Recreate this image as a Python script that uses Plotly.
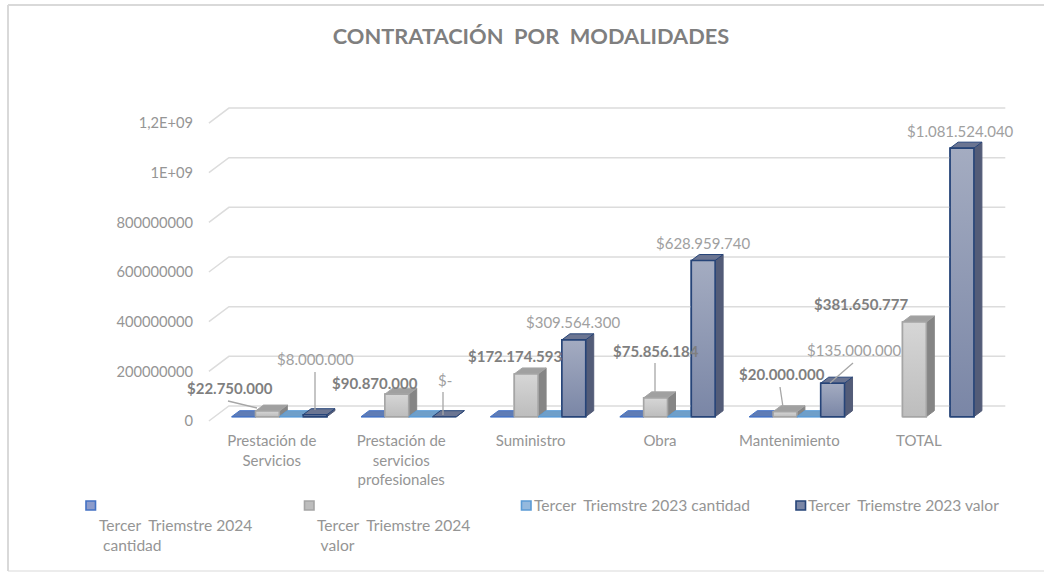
import plotly.graph_objects as go

TITLE = "CONTRATACIÓN  POR  MODALIDADES"
CATEGORIES = ["Prestación de<br>Servicios", "Prestación de<br>servicios<br>profesionales",
              "Suministro", "Obra", "Mantenimiento", "TOTAL"]
SERIES_2024_CANTIDAD = [3, 9, 14, 5, 6, None]
SERIES_2024_VALOR = [22750000, 90870000, 172174593, 75856184, 20000000, 381650777]
SERIES_2023_CANTIDAD = [2, 0, 4, 3, 2, None]
SERIES_2023_VALOR = [8000000, 0, 309564300, 628959740, 135000000, 1081524040]
Y_TICKS = [0, 200000000, 400000000, 600000000, 800000000, 1000000000, 1200000000]
Y_TICK_TEXT = ["0", "200000000", "400000000", "600000000", "800000000", "1E+09", "1,2E+09"]
LABELS_2024_VALOR = ["$22.750.000", "$90.870.000", "$172.174.593", "$75.856.184", "$20.000.000", "$381.650.777"]
LABELS_2023_VALOR = ["$8.000.000", "$-", "$309.564.300", "$628.959.740", "$135.000.000", "$1.081.524.040"]

# page geometry (px)
W, H = 1044, 572
L, R, T, B = 200, 1020, 90, 430
CAT0_PX, CAT_PX = 279.3, 129.4
ZERO_PX, PX_PER_V = 416.7, 0.2483e-6
BAR_UNITS = 0.184
FONT = "Lato, Carlito, Calibri, sans-serif"

def xv(px): return (px - CAT0_PX) / CAT_PX
def yv(py): return (ZERO_PX - py) / PX_PER_V
def xp(px): return (px - L) / (R - L)
def yp(py): return 1 - (py - T) / (B - T)
DX, DY = 8 / CAT_PX, 6 / PX_PER_V

STYLES = [
    dict(name="Tercer  Triemstre 2024 cantidad", line="#4472C4", front=("#a9b6da", "#8d9ccb"), top="#5f7cb5", side="#3d5f9e"),
    dict(name="Tercer  Triemstre 2024 valor", line="#A5A5A5", front=("#d6d6d6", "#bdbdbd"), top="#a0a0a0", side="#858585"),
    dict(name="Tercer  Triemstre 2023 cantidad", line="#5B9BD5", front=("#b4cfea", "#94b9de"), top="#6f9fc9", side="#4f86b8"),
    dict(name="Tercer  Triemstre 2023 valor", line="#264478", front=("#a4acc1", "#7a86a6"), top="#6b7592", side="#535c78"),
]
ALL_VALUES = [SERIES_2024_CANTIDAD, SERIES_2024_VALOR, SERIES_2023_CANTIDAD, SERIES_2023_VALOR]

fig = go.Figure()

# slanted wall gridlines
gx0, gx1, gx2 = -0.5 - 5.7 / CAT_PX, -0.5 + 14.3 / CAT_PX, 5.5 + 14.3 / CAT_PX
for v in Y_TICKS:
    fig.add_trace(go.Scatter(
        x=[gx0, gx1, gx2],
        y=[v - 4.3 / PX_PER_V, v + 10.7 / PX_PER_V, v + 10.7 / PX_PER_V],
        mode="lines", line=dict(color="#dcdcdc", width=1.5), hoverinfo="skip", showlegend=False))

# real bars
for vals, st in zip(ALL_VALUES, STYLES):
    fig.add_trace(go.Bar(x=list(range(6)), y=vals, name=st["name"], showlegend=False,
                         marker=dict(color=st["front"][1], line=dict(color=st["line"], width=1.5))))

# 3D faces derived from the values
def poly(xs, ys, **kw):
    fig.add_trace(go.Scatter(x=xs, y=ys, mode="lines", fill="toself", hoverinfo="skip", showlegend=False, **kw))

for s, (vals, st) in enumerate(zip(ALL_VALUES, STYLES)):
    for i, v in enumerate(vals):
        if v is None:
            continue
        x0 = i + (s - 2) * BAR_UNITS
        x1 = x0 + BAR_UNITS
        poly([x1, x1 + DX, x1 + DX, x1, x1], [0, DY, v + DY, v, 0], line=dict(color=st["side"], width=1), fillcolor=st["side"])
        poly([x0, x1, x1 + DX, x0 + DX, x0], [v, v, v + DY, v + DY, v], line=dict(color=st["line"], width=1), fillcolor=st["top"])
        if v > 1000:
            poly([x0, x1, x1, x0, x0], [0, 0, v, v, 0], line=dict(color=st["line"], width=1.6),
                 fillcolor=st["front"][1],
                 fillgradient=dict(type="vertical", colorscale=[[0, st["front"][1]], [1, st["front"][0]]]))

# leader lines (label end px, bar end px)
LEADERS = [
    (228, 401, 257, 408), (315, 372, 315, 410), (443, 392, 443, 415),
    (655, 363, 655, 393), (780, 387, 783, 407), (853, 363, 830, 383),
]
for a, b, c, d in LEADERS:
    fig.add_trace(go.Scatter(x=[xv(a), xv(c)], y=[yv(b), yv(d)], mode="lines",
                             line=dict(color="#a6a6a6", width=1.3), hoverinfo="skip", showlegend=False))

annotations = []
POS_2024 = [(230, 388), (375, 383), (515, 356), (656, 351), (782, 374), (861, 304)]
POS_2023 = [(316, 359), (445, 380), (573, 322), (703, 243), (854, 350), (961, 131)]
def label(text, value, cat, s, pos, bold):
    bx = CAT0_PX + (cat + (s - 1.5) * BAR_UNITS) * CAT_PX
    by = ZERO_PX - value * PX_PER_V
    annotations.append(dict(
        x=cat + (s - 1.5) * BAR_UNITS, y=value, xref="x", yref="y", text=f"<b>{text}</b>" if bold else text,
        showarrow=False, xshift=pos[0] - bx, yshift=by - pos[1], xanchor="center", yanchor="middle",
        font=dict(family=FONT, size=15, color="#7f7f7f" if bold else "#a0a0a0")))
for i in range(6):
    label(LABELS_2024_VALOR[i], SERIES_2024_VALOR[i], i, 1, POS_2024[i], True)
    label(LABELS_2023_VALOR[i], SERIES_2023_VALOR[i], i, 3, POS_2023[i], False)

# legend
LEG_BOX = [(85, 500), (303.5, 500), (520.5, 500), (795, 500)]
LEG_TEXT = [(97, 535, "Tercer  Triemstre 2024<br>\u00a0cantidad"), (314.5, 535, "Tercer  Triemstre 2024<br>\u00a0valor"),
            (532, 505, STYLES[2]["name"]), (806, 505, STYLES[3]["name"])]
shapes = []
for (bx, by), st in zip(LEG_BOX, STYLES):
    shapes.append(dict(type="rect", xref="paper", yref="paper", x0=xp(bx + 1), x1=xp(bx + 10.5), y0=yp(by + 1), y1=yp(by + 10),
                       line=dict(color=st["line"], width=1.6), fillcolor=st["front"][1]))
for lx, ly, txt in LEG_TEXT:
    annotations.append(dict(x=xp(lx), y=yp(ly), xref="paper", yref="paper", text=txt, showarrow=False,
                            xanchor="left", yanchor="middle", align="left",
                            font=dict(family=FONT, size=15.6, color="#959595")))

# chart frame
shapes.append(dict(type="line", xref="paper", yref="paper", x0=xp(8), x1=xp(1044), y0=yp(5), y1=yp(5), line=dict(color="#d9d9d9", width=2)))
shapes.append(dict(type="line", xref="paper", yref="paper", x0=xp(8), x1=xp(8), y0=yp(5), y1=yp(571), line=dict(color="#d9d9d9", width=2)))
shapes.append(dict(type="line", xref="paper", yref="paper", x0=xp(8), x1=xp(1044), y0=yp(571), y1=yp(571), line=dict(color="#d9d9d9", width=1)))

fig.update_layout(
    width=W, height=H, autosize=False,
    margin=dict(l=L, r=W - R, t=T, b=H - B, pad=0),
    paper_bgcolor="white", plot_bgcolor="rgba(0,0,0,0)",
    barmode="group", bargap=1 - 4 * BAR_UNITS, bargroupgap=0,
    showlegend=False,
    title=dict(text=f"<b>{TITLE}</b>", x=531 / W, xref="container", xanchor="center",
               y=1 - 36 / H, yref="container", yanchor="middle",
               font=dict(family=FONT, size=21.8, color="#7f7f7f")),
    xaxis=dict(range=[xv(L), xv(R)], tickmode="array", tickvals=[i - 7.5 / CAT_PX for i in range(6)], ticktext=CATEGORIES,
               showgrid=False, zeroline=False, showline=False, ticks="", tickangle=0,
               tickfont=dict(family=FONT, size=15, color="#959595")),
    yaxis=dict(range=[yv(B), yv(T)], tickmode="array", tickvals=[v - 4.4 / PX_PER_V for v in Y_TICKS], ticktext=Y_TICK_TEXT,
               showgrid=False, zeroline=False, showline=False, ticks="outside", ticklen=3, tickcolor="rgba(0,0,0,0)",
               tickfont=dict(family=FONT, size=14.7, color="#959595")),
    annotations=annotations, shapes=shapes,
)
fig.write_html("out.html", post_script="document.body.style.margin='0';", config=dict(displayModeBar=False))
